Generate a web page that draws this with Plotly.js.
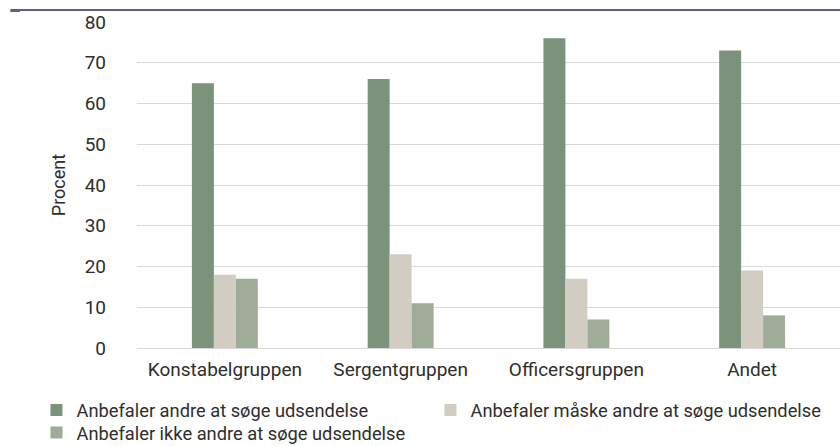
<!DOCTYPE html>
<html>
<head>
<meta charset="utf-8">
<script src="https://cdn.plot.ly/plotly-3.0.1.min.js"></script>
<style>html,body{margin:0;padding:0;background:#fff;}#chart{width:840px;height:446px;}</style>
</head>
<body>
<div id="chart"></div>
<script>
const categories = ["Konstabelgruppen", "Sergentgruppen", "Officersgruppen", "Andet"];
const seriesNames = [
  "Anbefaler andre at søge udsendelse",
  "Anbefaler måske andre at søge udsendelse",
  "Anbefaler ikke andre at søge udsendelse"
];
const anbefaler = [65, 66, 76, 73];
const anbefalerMaaske = [18, 23, 17, 19];
const anbefalerIkke = [17, 11, 7, 8];
const yTickValues = [0, 10, 20, 30, 40, 50, 60, 70, 80];
const yAxisTitle = "Procent";

const colors = ["#7a937a", "#d1cdc3", "#9eac98"];
const values = [anbefaler, anbefalerMaaske, anbefalerIkke];
const legendIds = ["legend", "legend", "legend2"];
const FONT = "Roboto, 'DejaVu Sans', sans-serif";
const TXT = "#2e2e2e";

const traces = values.map((v, i) => ({
  type: "bar",
  name: seriesNames[i],
  x: categories,
  y: v,
  legend: legendIds[i],
  marker: {color: colors[i], line: {width: 0}},
  hoverinfo: "x+y+name"
}));

const legendBase = {
  orientation: "h",
  xanchor: "left",
  yanchor: "top",
  entrywidth: 349,
  font: {family: FONT, size: 18.3, color: TXT},
  bgcolor: "rgba(0,0,0,0)",
  tracegroupgap: 0,
  traceorder: "normal"
};

const layout = {
  width: 840,
  height: 446,
  margin: {l: 137, r: 0, t: 22, b: 98, autoexpand: false},
  paper_bgcolor: "#ffffff",
  plot_bgcolor: "#ffffff",
  font: {family: FONT, size: 19, color: TXT},
  barmode: "group",
  bargap: 0.625,
  bargroupgap: 0,
  xaxis: {
    type: "category",
    automargin: false,
    showgrid: false,
    showline: true,
    linecolor: "#d9d9d9",
    linewidth: 1,
    ticks: "",
    tickfont: {family: FONT, size: 19, color: TXT},
    ticklabelstandoff: 4,
    fixedrange: true
  },
  yaxis: {
    automargin: false,
    range: [0, 80],
    tickvals: yTickValues,
    showgrid: true,
    gridcolor: "#d9d9d9",
    gridwidth: 1,
    zeroline: false,
    showline: false,
    ticks: "",
    ticklabelstandoff: 30,
    tickfont: {family: FONT, size: 19, color: TXT},
    title: {text: yAxisTitle, font: {family: FONT, size: 18, color: TXT}, standoff: 14},
    fixedrange: true
  },
  showlegend: true,
  legend: Object.assign({}, legendBase, {x: -0.143, y: -0.1334}),
  legend2: Object.assign({}, legendBase, {x: -0.143, y: -0.2025}),
  shapes: [
    {type: "line", xref: "paper", yref: "paper", x0: -0.18, x1: 1, y0: 1.0368, y1: 1.0368,
     line: {color: "#6a5a8c", width: 2}},
    {type: "rect", xref: "paper", yref: "paper", x0: -0.18, x1: -0.1665, y0: 1.0368, y1: 1.0307,
     line: {width: 0}, fillcolor: "#6a5a8c"}
  ]
};

Plotly.newPlot("chart", traces, layout, {displayModeBar: false, responsive: false});
</script>
</body>
</html>
